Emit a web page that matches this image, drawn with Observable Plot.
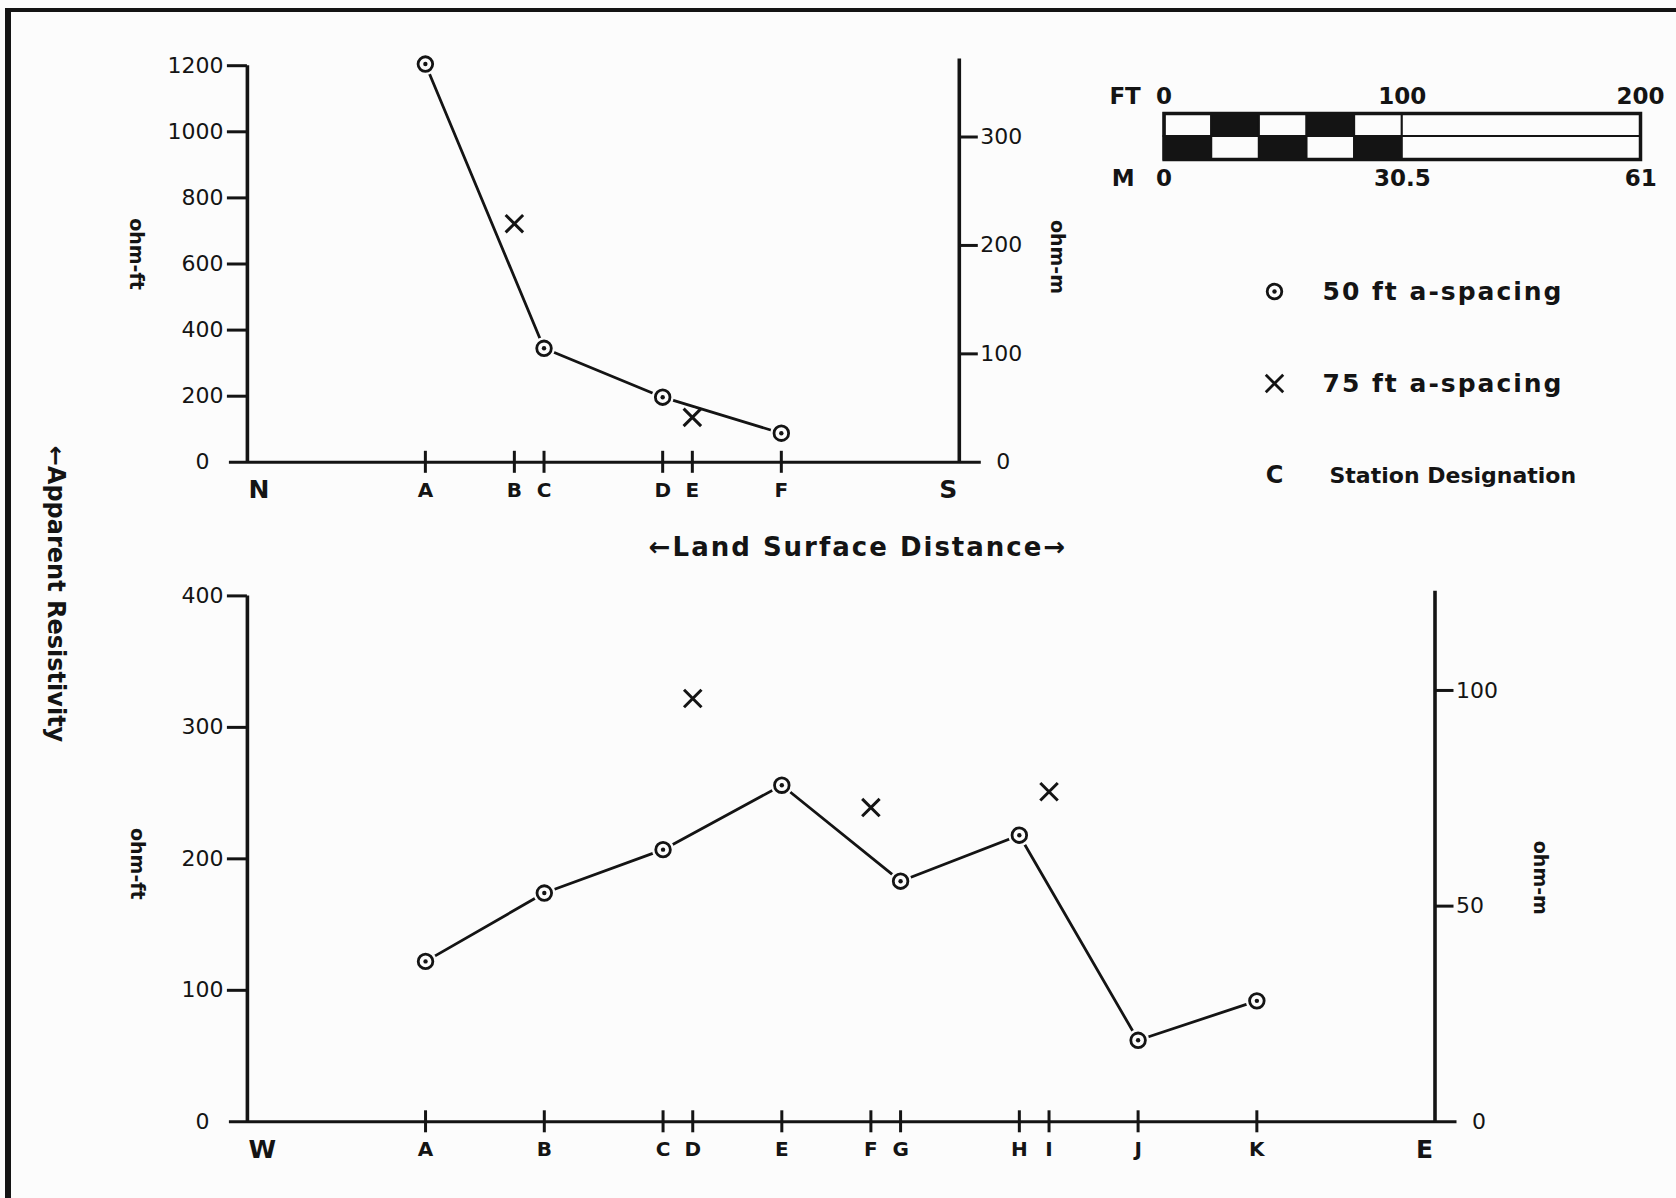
<!DOCTYPE html>
<html>
<head>
<meta charset="utf-8">
<script src="https://cdn.jsdelivr.net/npm/d3@7"></script>
<script src="https://cdn.jsdelivr.net/npm/@observablehq/plot@0.6"></script>
<style>
  html, body { margin: 0; padding: 0; background: #fcfcfc; overflow: hidden; }
  #page { position: relative; width: 1676px; height: 1198px; background: #fcfcfc; color: #141414;
          font-family: "DejaVu Sans", sans-serif; overflow: hidden; }
  #frame { position: absolute; left: 5px; top: 8px; width: 1720px; height: 1240px;
           border-left: 6px solid #141414; border-top: 4px solid #141414; }
  .title { position: absolute; white-space: nowrap; font-weight: bold; transform: translate(-50%, -50%); }
</style>
</head>
<body>
<div id="page">
  <div id="frame"></div>
  <div class="title" id="ytitle" style="left:56px; top:594px; font-size:24px; transform: translate(-50%,-50%) rotate(90deg);">←Apparent Resistivity</div>
  <div class="title" id="xtitle" style="left:858px; top:547px; font-size:26px; letter-spacing:2px;">←Land Surface Distance→</div>
</div>
<script>
// ---------------- data ----------------
const FT_PER_M = 3.2808;

// North–South profile (distances in ft from station A)
const topStations = ["A", "B", "C", "D", "E", "F"];
const topStationPos = [0, 37.5, 50, 100, 112.5, 150];
const topEnds = ["N", "S"];
const topEndPos = [-75, 225];
const top50Stations = ["A", "C", "D", "F"];
const top50Values = [1205, 345, 197, 88];      // ohm-ft
const top75Stations = ["B", "E"];
const top75Values = [722, 136];                // ohm-ft
const topFtTicks = [0, 200, 400, 600, 800, 1000, 1200];
const topMTicks = [0, 100, 200, 300];
const topMAxisEnd = 372;                       // ohm-m, top of right axis

// West–East profile
const botStations = ["A", "B", "C", "D", "E", "F", "G", "H", "I", "J", "K"];
const botStationPos = [0, 50, 100, 112.5, 150, 187.5, 200, 250, 262.5, 300, 350];
const botEnds = ["W", "E"];
const botEndPos = [-75, 425];
const bot50Stations = ["A", "B", "C", "E", "G", "H", "J", "K"];
const bot50Values = [122, 174, 207, 256, 183, 218, 62, 92];
const bot75Stations = ["D", "F", "I"];
const bot75Values = [322, 239, 251];
const botFtTicks = [0, 100, 200, 300, 400];
const botMTicks = [0, 50, 100];
const botMAxisEnd = 123;

// scale bar
const scaleFtLabels = [0, 100, 200];
const scaleMLabels = [0, 30.5, 61];
const scaleCellEdges = [0, 20, 40, 60, 80, 100, 200];
const scaleRows = ["upper", "lower"];

// legend
const legendLabels = ["50 ft a-spacing", "75 ft a-spacing", "Station Designation"];
const legendStationExample = "C";

// ---------------- drawing ----------------
const BG = "#fcfcfc", INK = "#141414";
const page = document.getElementById("page");

function place(el, left, top) {
  el.style.position = "absolute";
  el.style.left = left + "px";
  el.style.top = top + "px";
  page.appendChild(el);
}

function profilePlot(cfg) {
  const posOf = new Map(cfg.stations.map((s, i) => [s, cfg.pos[i]]));
  const stationData = cfg.stations.map((s, i) => ({name: s, x: cfg.pos[i]}));
  const d50 = cfg.s50.map((s, i) => ({x: posOf.get(s), v: cfg.v50[i]}));
  const d75 = cfg.s75.map((s, i) => ({x: posOf.get(s), v: cfg.v75[i]}));
  const leftEnd = [{name: cfg.ends[0], x: cfg.endPos[0]}];
  const rightEnd = [{name: cfg.ends[1], x: cfg.endPos[1]}];
  const ftMax = d3.max(cfg.ftTicks);
  return Plot.plot({
    width: 1676,
    height: cfg.height,
    marginLeft: cfg.ml, marginRight: cfg.mr, marginTop: cfg.mt, marginBottom: cfg.mb,
    x: {domain: cfg.endPos, axis: null},
    y: {domain: [0, ftMax], axis: null},
    style: {background: "transparent", color: INK, fontFamily: "DejaVu Sans, sans-serif", fontSize: "22px", overflow: "visible"},
    marks: [
      // axis lines
      Plot.ruleX([cfg.endPos[0]], {y1: 0, y2: ftMax, stroke: INK, strokeWidth: 3.6}),
      Plot.ruleX([cfg.endPos[1]], {y1: 0, y2: cfg.mAxisEnd * FT_PER_M, stroke: INK, strokeWidth: 3.6}),
      Plot.ruleY([0], {stroke: INK, strokeWidth: 3, insetLeft: -18, insetRight: -22}),
      // left (ohm-ft) axis
      Plot.axisY({ticks: cfg.ftTicks.filter(d => d > 0), anchor: "left", tickSize: 20, tickPadding: 4,
                  strokeWidth: 3, label: null, tickFormat: d => String(d)}),
      Plot.axisY({ticks: [0], anchor: "left", tickSize: 0, tickPadding: 38, label: null, tickFormat: d => String(d)}),
      // right (ohm-m) axis
      Plot.axisY({ticks: cfg.mTicks.filter(d => d > 0).map(m => m * FT_PER_M), anchor: "right", tickSize: 18, tickPadding: 3,
                  strokeWidth: 3, label: null, tickFormat: d => String(Math.round(d / FT_PER_M))}),
      Plot.axisY({ticks: [0], anchor: "right", tickSize: 0, tickPadding: 37, label: null, tickFormat: d => String(d)}),
      // station ticks and labels
      Plot.ruleX(stationData, {x: "x", y1: 0, y2: 0, insetTop: -11, insetBottom: -11, stroke: INK, strokeWidth: 3}),
      Plot.text(stationData, {x: "x", y: 0, text: "name", dy: 28, fontSize: 20, fontWeight: "bold"}),
      Plot.text(leftEnd, {x: "x", y: 0, text: "name", dy: 28, dx: 1, textAnchor: "start", fontSize: 25, fontWeight: "bold"}),
      Plot.text(rightEnd, {x: "x", y: 0, text: "name", dy: 28, dx: -2, textAnchor: "end", fontSize: 25, fontWeight: "bold"}),
      // axis titles
      Plot.text(["ohm-ft"], {frameAnchor: "left", textAnchor: "middle", lineAnchor: "middle", dx: cfg.ftTitleDx, dy: cfg.ftTitleDy,
                             rotate: 90, fontSize: 19, fontWeight: "bold"}),
      Plot.text(["ohm-m"], {frameAnchor: "right", textAnchor: "middle", lineAnchor: "middle", dx: cfg.mTitleDx, dy: cfg.mTitleDy,
                            rotate: 90, fontSize: 19, fontWeight: "bold"}),
      // data
      Plot.line(d50, {x: "x", y: "v", stroke: INK, strokeWidth: 2.8}),
      Plot.dot(d75, {x: "x", y: "v", r: 9, fill: BG}),
      Plot.dot(d50, {x: "x", y: "v", r: 11, fill: BG}),
      Plot.dot(d50, {x: "x", y: "v", r: 7.3, fill: BG, stroke: INK, strokeWidth: 2.8}),
      Plot.dot(d50, {x: "x", y: "v", r: 2.2, fill: INK}),
      Plot.dot(d75, {x: "x", y: "v", symbol: "times", r: 8, stroke: INK, strokeWidth: 3})
    ]
  });
}

const topPlot = profilePlot({
  stations: topStations, pos: topStationPos, ends: topEnds, endPos: topEndPos,
  s50: top50Stations, v50: top50Values, s75: top75Stations, v75: top75Values,
  ftTicks: topFtTicks, mTicks: topMTicks, mAxisEnd: topMAxisEnd,
  height: 530, ml: 246.9, mr: 1676 - 958.8, mt: 65.2, mb: 530 - 461.8,
  ftTitleDx: -111, ftTitleDy: -10, mTitleDx: 98, mTitleDy: -7
});
place(topPlot, 0, 0);

const botPlot = profilePlot({
  stations: botStations, pos: botStationPos, ends: botEnds, endPos: botEndPos,
  s50: bot50Stations, v50: bot50Values, s75: bot75Stations, v75: bot75Values,
  ftTicks: botFtTicks, mTicks: botMTicks, mAxisEnd: botMAxisEnd,
  height: 640, ml: 246.9, mr: 1676 - 1434.5, mt: 55.4, mb: 640 - 581.3,
  ftTitleDx: -110, ftTitleDy: 5, mTitleDx: 105, mTitleDy: 19
});
place(botPlot, 0, 540);

// scale bar
const cells = [];
scaleRows.forEach((row, r) => {
  for (let i = 0; i < scaleCellEdges.length - 1; ++i) {
    const dark = scaleCellEdges[i] < 100 && (i + r) % 2 === 1;
    cells.push({row, x1: scaleCellEdges[i], x2: scaleCellEdges[i + 1], fill: dark ? INK : BG});
  }
});
const scalePlot = Plot.plot({
  width: 596, height: 120,
  marginLeft: 83.6, marginRight: 36, marginTop: 43, marginBottom: 31,
  x: {domain: [0, d3.max(scaleFtLabels)], axis: null},
  y: {type: "band", domain: scaleRows, padding: 0, axis: null},
  color: {type: "identity"},
  style: {background: "transparent", color: INK, fontFamily: "DejaVu Sans, sans-serif", fontSize: "23px", overflow: "visible"},
  marks: [
    Plot.barX(cells, {x1: "x1", x2: "x2", y: "row", fill: "fill", stroke: INK, strokeWidth: 2, inset: 0}),
    Plot.frame({stroke: INK, strokeWidth: 3.5}),
    Plot.text(scaleFtLabels, {x: d => d, frameAnchor: "top", lineAnchor: "middle", dy: -17, text: d => String(d), fontWeight: "bold"}),
    Plot.text(["FT"], {x: () => 0, frameAnchor: "top", lineAnchor: "middle", dy: -17, dx: -39, fontWeight: "bold", text: d => d}),
    Plot.text(scaleMLabels, {x: d => d * FT_PER_M, frameAnchor: "bottom", lineAnchor: "middle", dy: 19, text: d => String(d), fontWeight: "bold"}),
    Plot.text(["M"], {x: () => 0, frameAnchor: "bottom", lineAnchor: "middle", dy: 19, dx: -41, fontWeight: "bold", text: d => d})
  ]
});
place(scalePlot, 1080, 70);

// legend
const legendPlot = Plot.plot({
  width: 430, height: 280,
  marginLeft: 0, marginRight: 0, marginTop: 50, marginBottom: 45,
  y: {type: "point", domain: legendLabels, padding: 0, axis: null},
  style: {background: "transparent", color: INK, fontFamily: "DejaVu Sans, sans-serif", fontSize: "24px", overflow: "visible"},
  marks: [
    Plot.dot([legendLabels[0]], {y: d => d, frameAnchor: "left", dx: 34, r: 7.3, fill: BG, stroke: INK, strokeWidth: 2.8}),
    Plot.dot([legendLabels[0]], {y: d => d, frameAnchor: "left", dx: 34, r: 2.2, fill: INK}),
    Plot.dot([legendLabels[1]], {y: d => d, frameAnchor: "left", dx: 34, symbol: "times", r: 8, stroke: INK, strokeWidth: 2.8}),
    Plot.text([legendLabels[2]], {y: d => d, frameAnchor: "left", textAnchor: "middle", dx: 34, text: () => legendStationExample, fontSize: 24, fontWeight: "bold"}),
    Plot.text(legendLabels.slice(0, 2), {y: d => d, frameAnchor: "left", dx: 82, textAnchor: "start", text: d => d, fontSize: 25, fontWeight: "bold"}),
    Plot.text(legendLabels.slice(2), {y: d => d, frameAnchor: "left", dx: 89, textAnchor: "start", text: d => d, fontSize: 22, fontWeight: "bold"})
  ]
});
legendPlot.querySelectorAll("text").forEach(t => {
  if (t.textContent.includes("a-spacing")) t.style.letterSpacing = "2px";
});
place(legendPlot, 1240, 240);
</script>
</body>
</html>
